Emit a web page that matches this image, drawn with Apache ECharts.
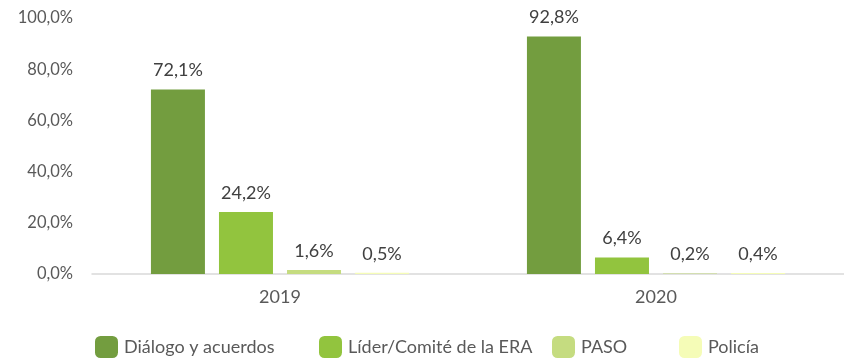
<!DOCTYPE html>
<html>
<head>
<meta charset="utf-8">
<script src="https://cdn.jsdelivr.net/npm/echarts@6/dist/echarts.min.js"></script>
<style>
  html, body { margin: 0; padding: 0; background: #fff; }
  #chart { width: 844px; height: 358px; }
</style>
</head>
<body>
<div id="chart"></div>
<script>
// Years on the category axis
const years = ['2019', '2020'];

// Share of responses per channel (percent)
const dialogoAcuerdos = [72.1, 92.8];
const liderComite = [24.2, 6.4];
const paso = [1.6, 0.2];
const policia = [0.5, 0.4];

const seriesNames = ['Diálogo y acuerdos', 'Líder/Comité de la ERA', 'PASO', 'Policía'];
const seriesColors = ['#739d3f', '#92c43e', '#c5dc80', '#f5fcb7'];
const seriesValues = [dialogoAcuerdos, liderComite, paso, policia];

// Y axis ticks
const yMin = 0, yMax = 100, yStep = 20;

const fmt = v => v.toFixed(1).replace('.', ',') + '%';
const FONT = 'Lato';

const chart = echarts.init(document.getElementById('chart'));

// One legend per item so each can sit at its own horizontal position
const legendLefts = [95, 319, 552, 679];
const legends = seriesNames.map((name, i) => ({
  data: [name],
  left: legendLefts[i],
  top: 336,
  padding: 0,
  orient: 'horizontal',
  itemWidth: 23,
  itemHeight: 22,
  itemGap: 0,
  icon: 'roundRect',
  selectedMode: false,
  textStyle: { fontFamily: FONT, fontSize: 18, color: '#595959', padding: [5, 0, 0, 1] }
}));

chart.setOption({
  animation: false,
  textStyle: { fontFamily: FONT },
  grid: { left: 92, right: -4, top: 18, bottom: 84, containLabel: false },
  legend: legends,
  xAxis: {
    type: 'category',
    data: years,
    axisLine: { lineStyle: { color: '#d9d9d9', width: 1.5 } },
    axisTick: { show: false },
    axisLabel: { fontFamily: FONT, fontSize: 18, color: '#595959', margin: 14 }
  },
  yAxis: {
    type: 'value',
    min: yMin,
    max: yMax,
    interval: yStep,
    axisLine: { show: false },
    axisTick: { show: false },
    splitLine: { show: false },
    axisLabel: {
      fontFamily: FONT, fontSize: 16.5, color: '#595959', margin: 19,
      formatter: v => fmt(v)
    }
  },
  series: seriesValues.map((vals, i) => ({
    name: seriesNames[i],
    type: 'bar',
    data: vals,
    barWidth: 54,
    barGap: '26%',
    itemStyle: { color: seriesColors[i] },
    label: {
      show: true,
      position: 'top',
      distance: 10,
      fontFamily: FONT,
      fontSize: 18,
      color: '#404040',
      formatter: p => fmt(p.value)
    }
  }))
});
</script>
</body>
</html>
